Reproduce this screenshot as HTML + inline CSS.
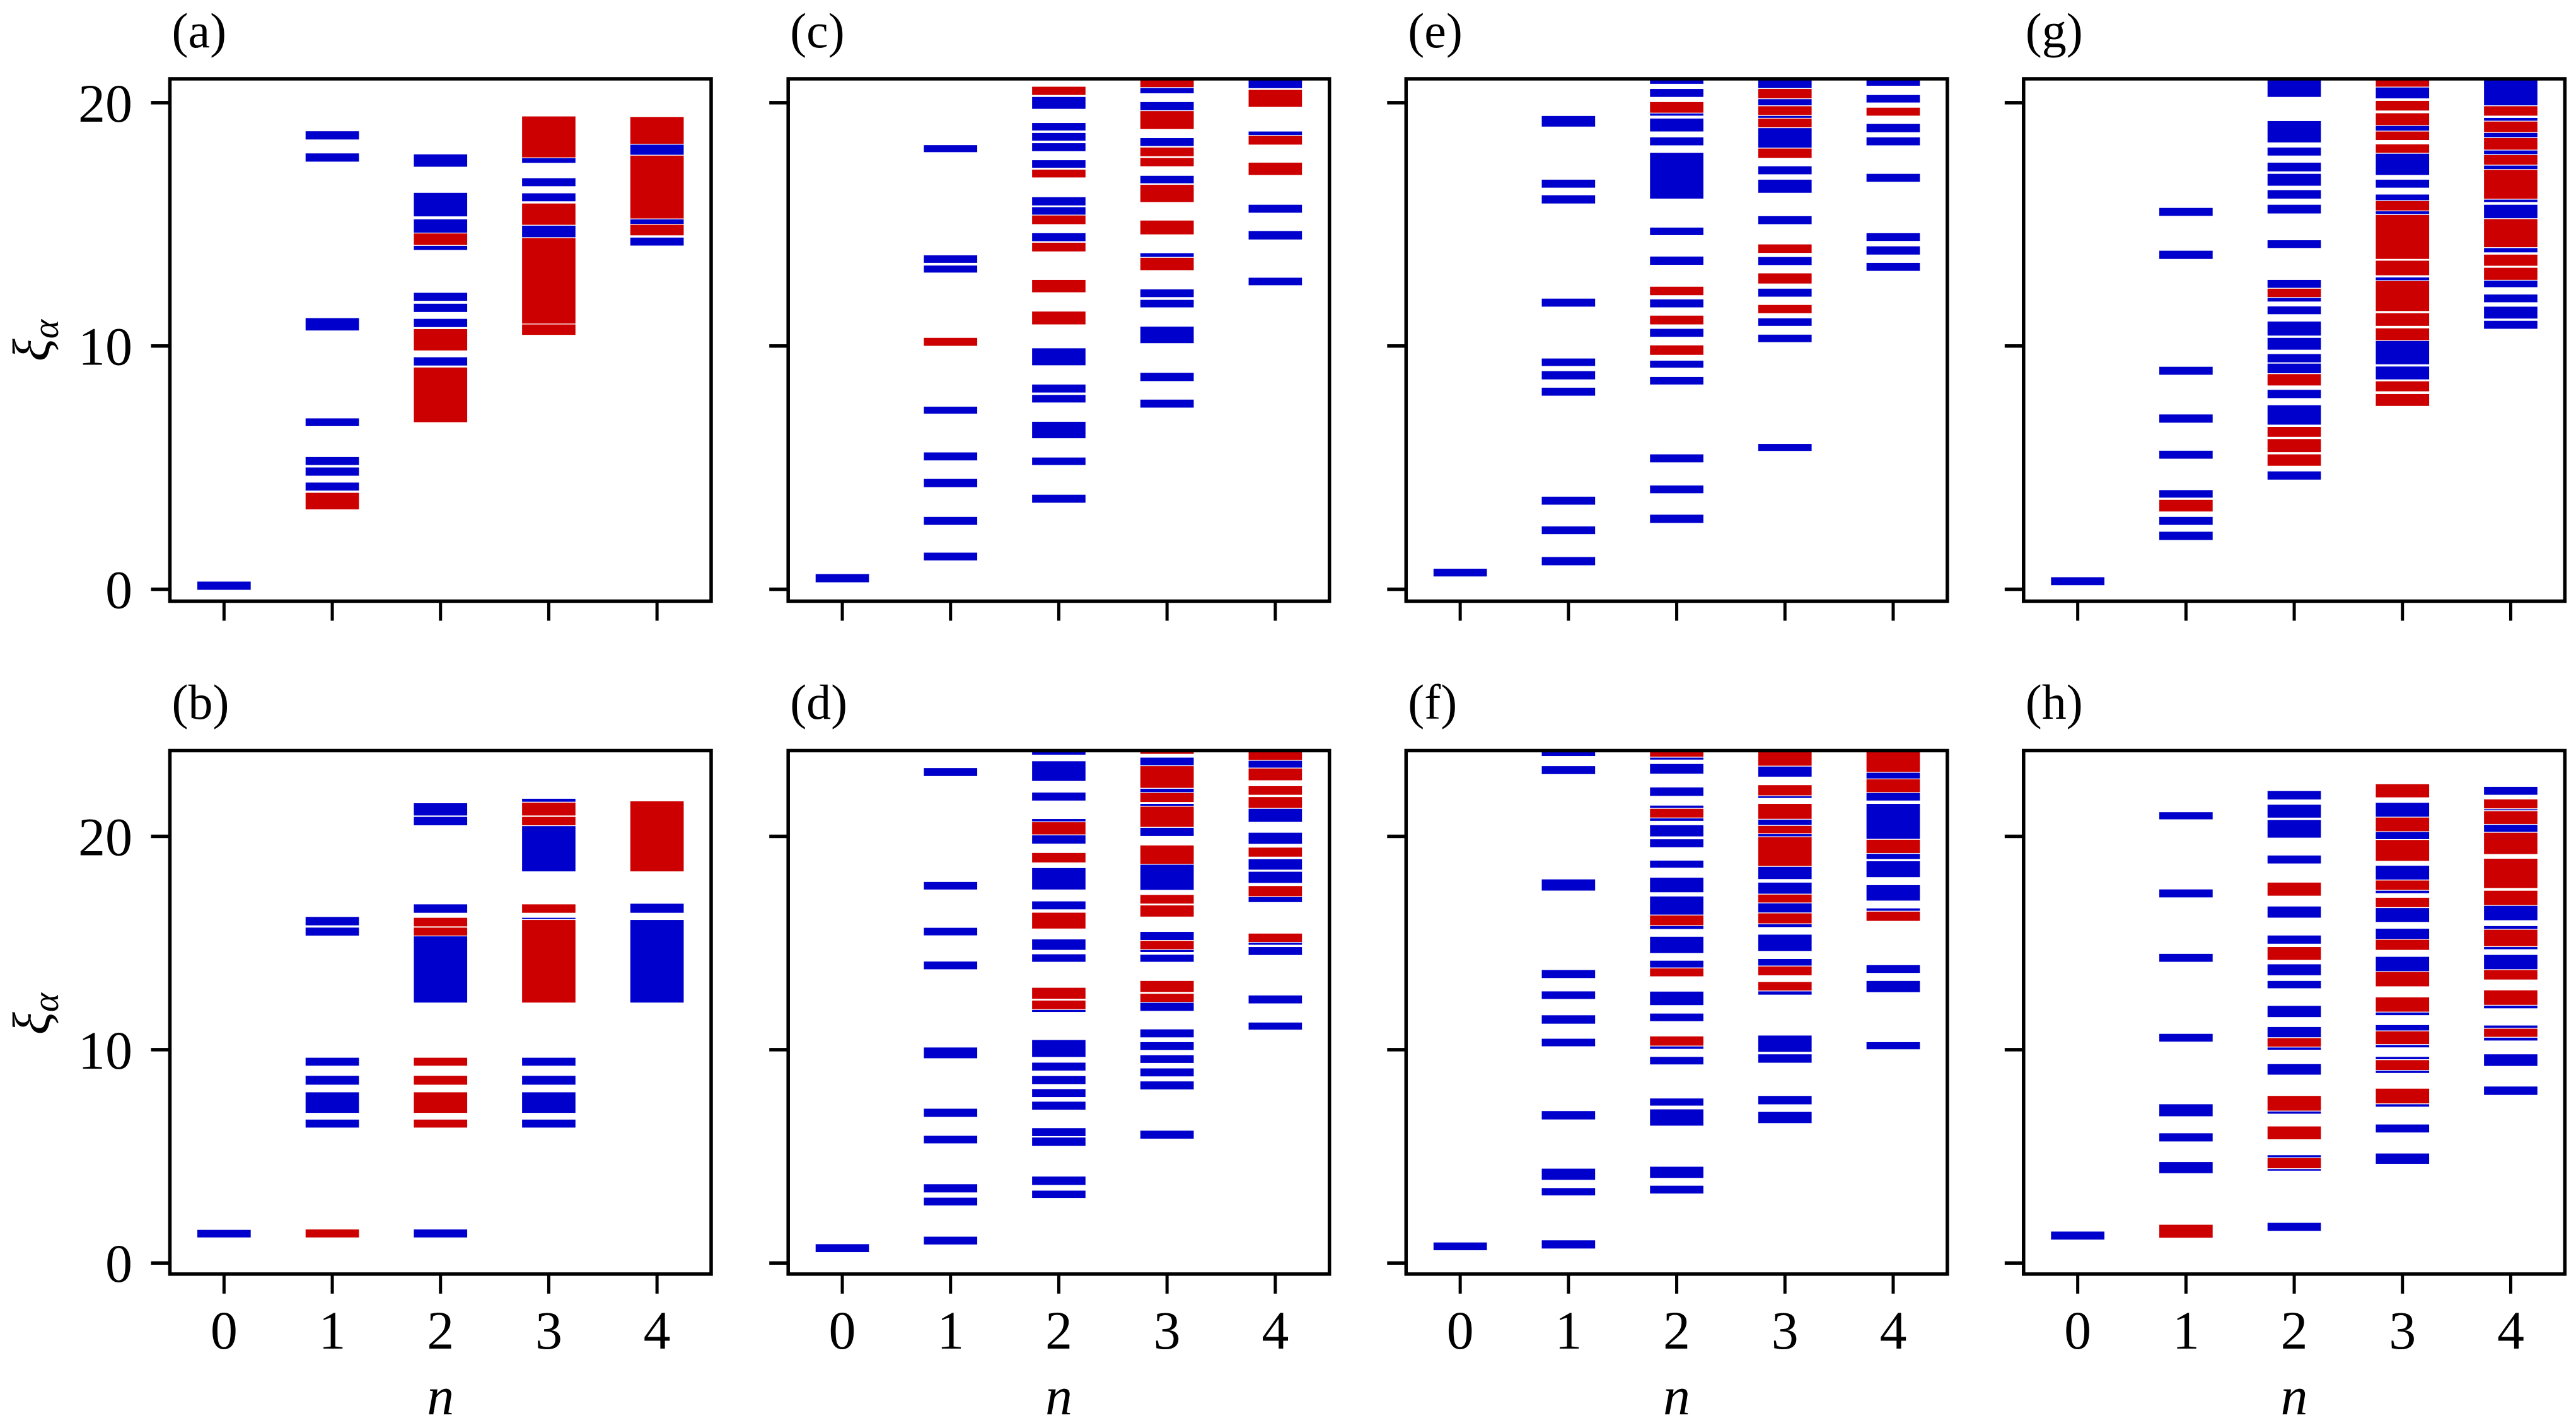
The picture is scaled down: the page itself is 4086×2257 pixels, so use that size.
<!DOCTYPE html>
<html><head><meta charset="utf-8"><style>
html,body{margin:0;padding:0;background:#fff;}
svg{display:block;}
text{font-family:"Liberation Serif","DejaVu Serif",serif;fill:#000;}
</style></head>
<body>
<svg id="fig" width="4086" height="2257" viewBox="0 0 4086 2257" xmlns="http://www.w3.org/2000/svg"></svg>
<script>
// categories (n values) and tick labels
const nValues = [0, 1, 2, 3, 4];
const yTicks = [0, 10, 20];
const panelLabels = ["(a)", "(b)", "(c)", "(d)", "(e)", "(f)", "(g)", "(h)"];
// Each spectrum column: list of [xi_low, xi_high, sector] (b = blue, r = red)
const levelsA = [
 [[-0.04,0.33,'b']],
 [[18.47,18.84,'b'],[17.56,17.93,'b'],[10.62,11.16,'b'],[6.69,7.04,'b'],[5.09,5.45,'b'],[4.65,5.02,'b'],[4.04,4.40,'b'],[3.27,3.98,'r']],
 [[17.35,17.89,'b'],[15.31,16.31,'b'],[14.64,15.22,'b'],[14.13,14.64,'r'],[13.93,14.13,'b'],[11.84,12.2,'b'],[11.38,11.75,'b'],[10.76,11.13,'b'],[9.8,10.71,'r'],[9.18,9.55,'b'],[6.85,9.13,'r']],
 [[17.73,19.45,'r'],[17.51,17.73,'b'],[16.55,16.91,'b'],[15.93,16.29,'b'],[14.96,15.87,'r'],[14.45,14.96,'b'],[10.9,14.45,'r'],[10.44,10.9,'r']],
 [[18.29,19.42,'r'],[17.84,18.29,'b'],[15.22,17.84,'r'],[15.0,15.22,'b'],[14.53,15.0,'r'],[14.11,14.47,'b']]
];
const levelsB = [
 [[1.18,1.57,'b']],
 [[15.81,16.24,'b'],[15.33,15.74,'b'],[9.23,9.64,'b'],[8.34,8.79,'b'],[7.02,8.02,'b'],[6.33,6.74,'b'],[1.18,1.59,'r']],
 [[20.96,21.57,'b'],[20.5,20.93,'b'],[16.4,16.83,'b'],[15.76,16.2,'r'],[15.33,15.74,'r'],[12.19,15.33,'b'],[9.23,9.64,'r'],[8.34,8.79,'r'],[7.02,8.02,'r'],[6.33,6.74,'r'],[1.18,1.59,'b']],
 [[21.6,21.78,'b'],[20.96,21.6,'r'],[20.5,20.93,'r'],[18.34,20.5,'b'],[16.4,16.83,'r'],[16.1,16.2,'b'],[12.19,16.1,'r'],[9.23,9.64,'b'],[8.34,8.79,'b'],[7.02,8.02,'b'],[6.33,6.74,'b']],
 [[18.34,21.66,'r'],[16.4,16.86,'b'],[12.19,16.1,'b']]
];
const levelsC = [
 [[0.27,0.64,'b']],
 [[17.95,18.27,'b'],[13.4,13.74,'b'],[13.0,13.32,'b'],[9.99,10.35,'r'],[7.2,7.52,'b'],[5.28,5.64,'b'],[4.18,4.55,'b'],[2.63,2.99,'b'],[1.17,1.52,'b']],
 [[20.3,20.67,'r'],[19.73,20.25,'b'],[18.84,19.18,'b'],[18.42,18.77,'b'],[17.99,18.35,'b'],[17.31,17.65,'b'],[16.91,17.26,'r'],[15.76,16.13,'b'],[15.38,15.72,'b'],[14.99,15.38,'r'],[14.29,14.65,'b'],[13.87,14.26,'r'],[12.19,12.73,'r'],[10.87,11.43,'r'],[9.19,9.92,'b'],[8.07,8.43,'b'],[7.66,8.0,'b'],[6.19,6.9,'b'],[5.09,5.43,'b'],[3.54,3.9,'b']],
 [[20.62,21.0,'r'],[20.37,20.62,'b'],[19.67,20.04,'b'],[18.9,19.67,'r'],[18.2,18.56,'b'],[17.78,18.17,'r'],[17.37,17.74,'r'],[16.67,17.01,'b'],[15.9,16.64,'r'],[14.57,15.17,'r'],[13.64,13.83,'b'],[13.1,13.64,'r'],[11.99,12.34,'b'],[11.57,11.91,'b'],[10.1,10.81,'b'],[8.54,8.91,'b'],[7.45,7.81,'b']],
 [[20.58,21.0,'b'],[19.81,20.54,'r'],[18.65,18.83,'b'],[18.26,18.65,'r'],[17.01,17.55,'r'],[15.46,15.82,'b'],[14.36,14.74,'b'],[12.48,12.82,'b']]
];
const levelsD = [
 [[0.49,0.9,'b']],
 [[22.81,23.22,'b'],[17.49,17.88,'b'],[15.34,15.73,'b'],[13.75,14.15,'b'],[9.58,10.12,'b'],[6.83,7.25,'b'],[5.59,5.98,'b'],[3.29,3.71,'b'],[2.68,3.08,'b'],[0.85,1.25,'b']],
 [[23.81,24.1,'b'],[22.58,23.54,'b'],[21.66,22.07,'b'],[20.68,20.83,'b'],[20.07,20.68,'r'],[19.64,20.07,'b'],[18.76,19.24,'r'],[17.49,18.53,'b'],[16.56,16.97,'b'],[15.66,16.44,'r'],[14.66,15.19,'b'],[14.1,14.49,'b'],[12.37,12.92,'r'],[11.88,12.32,'r'],[11.75,11.88,'b'],[9.64,10.47,'b'],[9.0,9.41,'b'],[8.37,8.78,'b'],[7.76,8.17,'b'],[7.17,7.58,'b'],[5.93,6.34,'b'],[5.47,5.9,'b'],[3.64,4.07,'b'],[3.03,3.41,'b']],
 [[23.85,24.1,'r'],[23.31,23.71,'b'],[22.25,23.31,'r'],[22.05,22.25,'b'],[21.59,22.05,'r'],[21.41,21.54,'b'],[20.42,21.41,'r'],[20.0,20.42,'b'],[18.69,19.59,'r'],[17.47,18.69,'b'],[16.83,17.27,'r'],[16.22,16.78,'r'],[15.12,15.54,'b'],[14.69,15.12,'r'],[14.56,14.69,'b'],[14.1,14.47,'b'],[12.69,13.24,'r'],[12.22,12.64,'r'],[11.8,12.22,'b'],[10.56,10.97,'b'],[9.97,10.37,'b'],[9.36,9.76,'b'],[8.73,9.14,'b'],[8.12,8.53,'b'],[5.81,6.22,'b']],
 [[23.56,24.1,'r'],[23.2,23.56,'b'],[22.61,23.2,'r'],[21.93,22.37,'r'],[21.31,21.86,'r'],[20.66,21.31,'b'],[19.63,20.19,'b'],[19.03,19.49,'r'],[18.42,18.95,'b'],[17.8,18.36,'b'],[17.17,17.69,'r'],[16.9,17.17,'b'],[15.03,15.46,'r'],[14.9,15.03,'b'],[14.42,14.83,'b'],[12.15,12.56,'b'],[10.92,11.29,'b']]
];
const levelsE = [
 [[0.51,0.86,'b']],
 [[19.0,19.47,'b'],[16.49,16.85,'b'],[15.84,16.21,'b'],[11.6,11.96,'b'],[9.16,9.5,'b'],[8.61,8.98,'b'],[7.94,8.3,'b'],[3.46,3.82,'b'],[2.25,2.6,'b'],[0.97,1.34,'b']],
 [[20.76,21.0,'b'],[20.22,20.58,'b'],[19.57,20.04,'r'],[19.45,19.57,'b'],[18.8,19.36,'b'],[18.23,18.59,'b'],[16.04,17.95,'b'],[14.54,14.88,'b'],[13.32,13.69,'b'],[12.07,12.45,'r'],[11.57,11.93,'b'],[10.87,11.26,'r'],[10.36,10.72,'b'],[9.62,10.04,'r'],[9.09,9.41,'b'],[8.4,8.74,'b'],[5.2,5.56,'b'],[3.93,4.28,'b'],[2.71,3.08,'b']],
 [[20.58,21.0,'b'],[20.16,20.58,'r'],[19.87,20.16,'b'],[19.47,19.87,'r'],[19.36,19.47,'b'],[18.97,19.36,'r'],[18.13,18.97,'b'],[17.71,18.13,'r'],[17.04,17.4,'b'],[16.28,16.85,'b'],[14.99,15.35,'b'],[13.81,14.19,'r'],[13.31,13.67,'b'],[12.55,13.0,'r'],[12.01,12.37,'b'],[11.33,11.7,'r'],[10.81,11.15,'b'],[10.14,10.48,'b'],[5.67,5.99,'b']],
 [[20.68,21.0,'b'],[19.99,20.33,'b'],[19.45,19.81,'r'],[18.77,19.14,'b'],[18.23,18.59,'b'],[16.73,17.09,'b'],[14.3,14.65,'b'],[13.74,14.11,'b'],[13.07,13.43,'b']]
];
const levelsF = [
 [[0.58,0.98,'b']],
 [[23.75,24.1,'b'],[22.9,23.31,'b'],[17.44,18.0,'b'],[13.34,13.75,'b'],[12.36,12.75,'b'],[11.2,11.63,'b'],[10.14,10.53,'b'],[6.71,7.14,'b'],[3.88,4.44,'b'],[3.15,3.53,'b'],[0.66,1.08,'b']],
 [[23.71,24.1,'r'],[23.58,23.71,'b'],[22.92,23.41,'b'],[21.88,22.31,'b'],[21.31,21.46,'b'],[20.86,21.31,'r'],[20.71,20.86,'b'],[19.98,20.54,'b'],[19.47,19.88,'b'],[18.51,18.88,'b'],[17.36,18.08,'b'],[16.31,17.2,'b'],[15.81,16.31,'r'],[15.64,15.81,'b'],[14.51,15.31,'b'],[13.83,14.19,'b'],[13.42,13.83,'r'],[12.07,12.74,'b'],[11.32,11.71,'b'],[10.17,10.64,'r'],[10.02,10.17,'b'],[9.29,9.68,'b'],[7.36,7.73,'b'],[6.42,7.22,'b'],[3.97,4.53,'b'],[3.24,3.64,'b']],
 [[23.29,24.1,'r'],[22.78,23.29,'b'],[21.9,22.42,'r'],[21.78,21.9,'b'],[20.8,21.54,'r'],[20.51,20.8,'b'],[20.12,20.51,'r'],[19.98,20.12,'b'],[18.59,19.98,'r'],[17.98,18.59,'b'],[17.29,17.85,'b'],[16.88,17.29,'r'],[16.41,16.88,'b'],[15.9,16.41,'r'],[15.73,15.9,'b'],[14.61,15.41,'b'],[13.92,14.27,'b'],[13.47,13.92,'r'],[12.75,13.19,'r'],[12.56,12.75,'b'],[9.88,10.68,'b'],[9.37,9.8,'b'],[7.42,7.85,'b'],[6.54,7.1,'b']],
 [[23.0,24.1,'r'],[22.69,23.0,'b'],[22.05,22.69,'r'],[21.66,22.05,'b'],[19.86,21.54,'b'],[19.2,19.86,'r'],[18.92,19.2,'b'],[18.07,18.85,'b'],[16.97,17.73,'b'],[16.49,16.64,'b'],[16.02,16.49,'r'],[13.58,13.98,'b'],[12.68,13.24,'b'],[10.0,10.37,'b']]
];
const levelsG = [
 [[0.15,0.51,'b']],
 [[15.33,15.69,'b'],[13.56,13.93,'b'],[8.8,9.16,'b'],[6.83,7.2,'b'],[5.35,5.71,'b'],[3.75,4.09,'b'],[3.18,3.69,'r'],[2.63,2.99,'b'],[2.01,2.38,'b']],
 [[20.22,21.0,'b'],[18.35,19.26,'b'],[17.81,18.17,'b'],[17.16,17.55,'b'],[16.57,17.09,'b'],[16.04,16.42,'b'],[15.43,15.82,'b'],[14.01,14.36,'b'],[12.37,12.73,'b'],[11.99,12.37,'r'],[11.81,11.99,'b'],[11.29,11.64,'b'],[10.41,11.02,'b'],[9.83,10.35,'b'],[9.31,9.68,'b'],[8.86,9.29,'b'],[8.36,8.86,'r'],[7.84,8.21,'b'],[6.75,7.58,'b'],[6.25,6.69,'r'],[5.62,6.19,'r'],[5.06,5.56,'r'],[4.49,4.86,'b']],
 [[20.64,21.0,'r'],[20.16,20.64,'b'],[19.66,20.09,'r'],[19.06,19.58,'r'],[18.83,19.06,'b'],[18.45,18.83,'r'],[17.92,18.3,'r'],[17.01,17.92,'b'],[16.49,16.85,'b'],[15.97,16.24,'b'],[15.55,15.97,'r'],[15.4,15.55,'b'],[13.56,15.4,'r'],[12.89,13.52,'r'],[12.68,12.83,'b'],[11.42,12.68,'r'],[10.81,11.36,'r'],[10.22,10.74,'r'],[9.23,10.22,'b'],[8.61,9.17,'b'],[8.12,8.56,'r'],[7.52,8.04,'r']],
 [[19.87,21.0,'b'],[19.45,19.87,'r'],[19.24,19.39,'b'],[18.77,19.24,'r'],[18.56,18.77,'b'],[18.05,18.56,'r'],[17.86,18.05,'b'],[17.43,17.86,'r'],[17.25,17.43,'b'],[16.03,17.25,'r'],[15.9,16.03,'b'],[15.23,15.82,'b'],[14.04,15.23,'r'],[13.83,14.04,'b'],[13.28,13.77,'r'],[12.7,13.23,'r'],[12.4,12.7,'b'],[11.78,12.13,'b'],[11.11,11.63,'b'],[10.69,11.05,'b']]
];
const levelsH = [
 [[1.08,1.49,'b']],
 [[20.78,21.15,'b'],[17.12,17.53,'b'],[14.1,14.51,'b'],[10.36,10.76,'b'],[6.86,7.46,'b'],[5.68,6.1,'b'],[4.19,4.75,'b'],[1.17,1.81,'r']],
 [[21.71,22.14,'b'],[20.86,21.5,'b'],[19.92,20.78,'b'],[18.71,19.12,'b'],[17.2,17.85,'r'],[16.17,16.73,'b'],[14.95,15.37,'b'],[14.19,14.83,'r'],[13.47,14.02,'b'],[12.86,13.24,'b'],[11.51,12.07,'b'],[10.56,11.08,'b'],[10.12,10.56,'r'],[9.98,10.12,'b'],[8.81,9.34,'b'],[7.12,7.85,'r'],[6.98,7.12,'b'],[5.78,6.42,'r'],[4.93,5.07,'b'],[4.42,4.93,'r'],[4.31,4.42,'b'],[1.49,1.9,'b']],
 [[21.81,22.46,'r'],[20.9,21.59,'b'],[20.22,20.9,'r'],[19.85,20.22,'b'],[18.83,19.85,'r'],[17.95,18.64,'b'],[17.47,17.95,'r'],[17.32,17.47,'b'],[16.66,17.14,'r'],[15.97,16.66,'b'],[15.17,15.69,'b'],[14.66,15.17,'r'],[13.66,14.37,'b'],[12.95,13.66,'r'],[11.76,12.47,'r'],[11.6,11.76,'b'],[10.88,11.17,'b'],[10.24,10.88,'r'],[10.09,10.24,'b'],[9.53,9.68,'b'],[9.03,9.53,'r'],[8.89,9.03,'b'],[7.46,8.19,'r'],[7.31,7.46,'b'],[6.1,6.51,'b'],[4.63,5.15,'b']],
 [[21.93,22.34,'b'],[21.29,21.75,'r'],[21.2,21.29,'b'],[20.56,21.2,'r'],[20.19,20.56,'b'],[19.15,20.19,'r'],[17.56,18.97,'r'],[16.76,17.47,'r'],[16.05,16.76,'b'],[15.64,15.81,'b'],[14.83,15.64,'r'],[14.69,14.83,'b'],[13.75,14.46,'b'],[13.27,13.75,'r'],[12.08,12.8,'r'],[11.92,12.08,'b'],[11.0,11.15,'b'],[10.58,11.0,'r'],[10.41,10.58,'b'],[9.22,9.8,'b'],[7.86,8.29,'b']]
];
const panelOrder = [levelsA, levelsB, levelsC, levelsD, levelsE, levelsF, levelsG, levelsH];

const NS = "http://www.w3.org/2000/svg";
const svg = document.getElementById('fig');
const colorMap = {b: '#0000cc', r: '#cc0000'};
const colLeft = [269.5, 1250.2, 2230.3, 3209.8];
const PW = 858.5;
const rowTop = [125, 1190.5];
const rowBottom = [953.5, 2020.8];
const rowYmin = [-0.49, -0.52];
const rowYmax = [20.98, 24.02];

function mk(tag, attrs, parent) {
  const e = document.createElementNS(NS, tag);
  for (const k in attrs) e.setAttribute(k, attrs[k]);
  (parent || svg).appendChild(e);
  return e;
}

panelOrder.forEach((levels, p) => {
  const col = Math.floor(p / 2), row = p % 2;
  const L = colLeft[col], R = L + PW, T = rowTop[row], B = rowBottom[row];
  const xs = v => L + (v + 0.5) / 5 * PW;
  const ys = v => B - (v - rowYmin[row]) / (rowYmax[row] - rowYmin[row]) * (B - T);
  const g = mk('g', {});
  
  

  levels.forEach((segs, ni) => {
    segs.forEach(s => {
      const lo = Math.max(s[0], rowYmin[row]), hi = Math.min(s[1], rowYmax[row]);
      const r = mk('rect', {x: xs(nValues[ni] - 0.25), y: ys(hi), width: xs(0.25) - xs(-0.25), height: Math.max(1, ys(lo) - ys(hi)), fill: colorMap[s[2]], stroke: '#fff', 'stroke-width': 1.2}, g);
      
      
    });
  });

  const fr = mk('rect', {x: L, y: T, width: PW, height: B - T, fill: 'none', stroke: '#000', 'stroke-width': 5.5}, g);
  
  

  nValues.forEach(v => {
    const t = mk('line', {x1: xs(v), x2: xs(v), y1: B, y2: B + 31, stroke: '#000', 'stroke-width': 5}, g);
    
    
    if (row === 1) {
      const tl = mk('text', {x: xs(v), y: 2139, 'font-size': 86, 'text-anchor': 'middle'}, g);
      tl.textContent = String(v);
      
      
    }
  });
  yTicks.forEach(v => {
    const t = mk('line', {x1: L - 30, x2: L, y1: ys(v), y2: ys(v), stroke: '#000', 'stroke-width': 5.5}, g);
    
    
    if (col === 0) {
      const tl = mk('text', {x: 210, y: ys(v) + 30, 'font-size': 86, 'text-anchor': 'end'}, g);
      tl.textContent = String(v);
      
      
    }
  });

  const pl = mk('text', {x: L + 3, y: row === 0 ? 75 : 1140, 'font-size': 78}, g);
  pl.textContent = panelLabels[p];
  
  

  if (row === 1) {
    const xl = mk('text', {x: L + PW / 2, y: 2243, 'font-size': 86, 'font-style': 'italic', 'text-anchor': 'middle'}, g);
    xl.textContent = 'n';
    
    
  }
  if (col === 0) {
    const cy = row === 0 ? 540 : 1608;
    const yl = mk('text', {x: 0, y: 0, 'font-size': 84, 'font-style': 'italic', 'text-anchor': 'middle', transform: 'translate(78,' + cy + ') rotate(-90)'}, g);
    
    
    const t1 = document.createElementNS(NS, 'tspan'); t1.textContent = 'ξ'; yl.appendChild(t1);
    const t2 = document.createElementNS(NS, 'tspan'); t2.setAttribute('font-size', 58); t2.setAttribute('dy', 14); t2.textContent = 'α'; yl.appendChild(t2);
  }
});
</script>
</body></html>
